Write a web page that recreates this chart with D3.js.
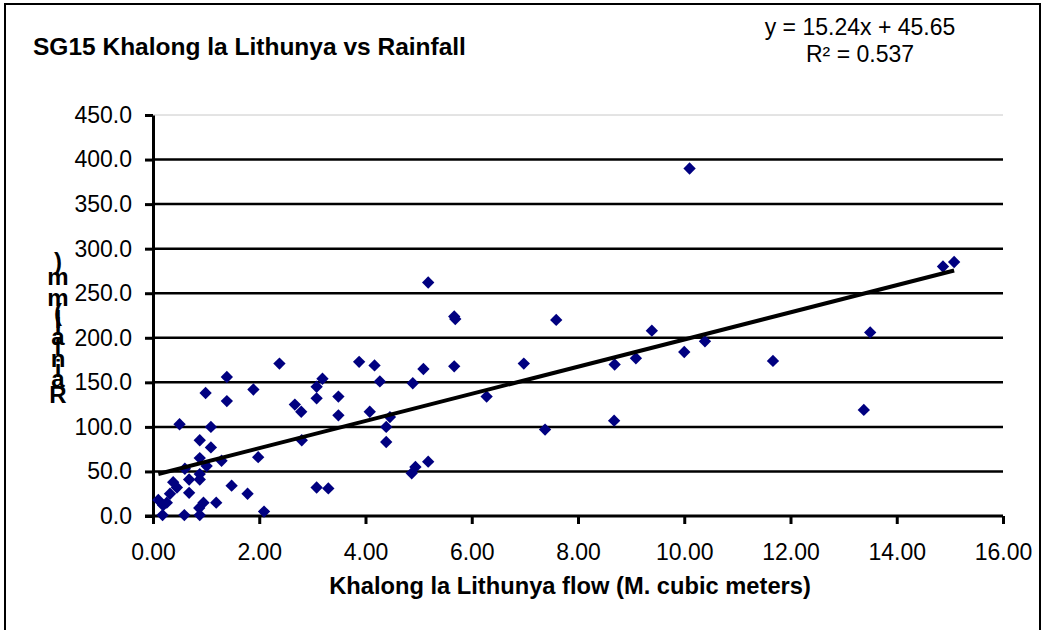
<!DOCTYPE html>
<html>
<head>
<meta charset="utf-8">
<script src="https://cdn.jsdelivr.net/npm/d3@7"></script>
<style>
  body { margin: 0; background: #fff; }
  text { font-family: "Liberation Sans", Arial, sans-serif; fill: #000; }
</style>
</head>
<body>
<div id="chart"></div>
<script>
// data
const X_VALUES = [0.10, 0.19, 0.26, 0.18, 0.32, 0.38, 0.45, 0.50, 0.60, 0.59, 0.68, 0.68,
                  0.88, 0.88, 0.88, 0.88, 0.87, 0.88, 0.95, 0.99, 1.01, 1.09, 1.09, 1.19,
                  1.29, 1.39, 1.39, 1.48, 1.78, 1.89, 1.98, 2.09, 2.38, 2.67, 2.79, 2.80,
                  3.08, 3.08, 3.19, 3.08, 3.30, 3.49, 3.49, 3.88, 4.08, 4.17, 4.27, 4.39,
                  4.39, 4.46, 4.87, 4.89, 4.94, 5.09, 5.18, 5.18, 5.67, 5.69, 5.67, 6.28,
                  6.98, 7.38, 7.59, 8.69, 8.68, 9.09, 9.39, 10.00, 10.10, 10.39, 11.67,
                  13.38, 13.50, 14.87, 15.08];
const Y_VALUES = [18, 12, 15, 1, 25, 38, 32, 103, 53, 1, 41, 26,
                  85, 65, 47, 41, 9, 1, 15, 138, 56, 100, 77, 15,
                  62, 156, 129, 34, 25, 142, 66, 5, 171, 125, 117, 85,
                  145, 132, 154, 32, 31, 134, 113, 173, 117, 169, 151, 100,
                  83, 111, 48, 149, 55, 165, 61, 262, 224, 221, 168, 134,
                  171, 97, 220, 170, 107, 177, 208, 184, 390, 196, 174,
                  119, 206, 280, 285];
const X_TICKS = [0, 2, 4, 6, 8, 10, 12, 14, 16];
const Y_TICKS = [0, 50, 100, 150, 200, 250, 300, 350, 400, 450];
const SLOPE = 15.24;
const INTERCEPT = 45.65;
const R_SQUARED = 0.537;

const TITLE = "SG15 Khalong la Lithunya vs Rainfall";
const X_TITLE = "Khalong la Lithunya flow (M. cubic meters)";
const Y_TITLE = "Rainfall (mm)";

// frame
const FRAME_WIDTH = 1045;
const FRAME_HEIGHT = 630;
const PLOT = {left: 153, right: 1003, top: 115, bottom: 516};
const FONT = 23;

const points = X_VALUES.map((x, i) => [x, Y_VALUES[i]]);

const FRAME = d3.select("#chart")
  .append("svg")
  .attr("width", FRAME_WIDTH)
  .attr("height", FRAME_HEIGHT);

// outer chart border
FRAME.append("rect")
  .attr("x", 5).attr("y", 4)
  .attr("width", 1035).attr("height", 660)
  .attr("fill", "none")
  .attr("stroke", "#000")
  .attr("stroke-width", 2);

const X_SCALE = d3.scaleLinear().domain([0, 16]).range([PLOT.left, PLOT.right]);
const Y_SCALE = d3.scaleLinear().domain([0, 450]).range([PLOT.bottom, PLOT.top]);

// gridlines
FRAME.append("g")
  .selectAll("line")
  .data(Y_TICKS.filter(d => d > 0))
  .enter()
  .append("line")
    .attr("x1", PLOT.left)
    .attr("x2", PLOT.right)
    .attr("y1", d => Y_SCALE(d))
    .attr("y2", d => Y_SCALE(d))
    .attr("stroke", d => d === 450 ? "#c8c8c8" : "#000")
    .attr("stroke-width", d => d === 450 ? 1 : 2.5);

// y axis
const yAxis = FRAME.append("g")
  .attr("transform", `translate(${PLOT.left},0)`)
  .call(d3.axisLeft(Y_SCALE)
    .tickValues(Y_TICKS)
    .tickSize(8)
    .tickSizeOuter(0)
    .tickPadding(13)
    .tickFormat(d3.format(".1f")));

// x axis
const xAxis = FRAME.append("g")
  .attr("transform", `translate(0,${PLOT.bottom})`)
  .call(d3.axisBottom(X_SCALE)
    .tickValues(X_TICKS)
    .tickSize(8)
    .tickSizeOuter(0)
    .tickPadding(20)
    .tickFormat(d3.format(".2f")));

[yAxis, xAxis].forEach(ax => {
  ax.select(".domain").attr("stroke", "#000").attr("stroke-width", 3);
  ax.selectAll(".tick line").attr("stroke", "#000").attr("stroke-width", 3);
  ax.selectAll(".tick text")
    .attr("font-size", FONT)
    .attr("font-family", "Liberation Sans, Arial, sans-serif")
    .attr("fill", "#000");
});
xAxis.select(".domain").attr("d", `M${PLOT.left - 8},0H${PLOT.right}`);

// points
FRAME.append("g")
  .selectAll("path")
  .data(points)
  .enter()
  .append("path")
    .attr("d", d3.symbol(d3.symbolSquare, 76))
    .attr("transform", d => `translate(${X_SCALE(d[0])},${Y_SCALE(d[1])}) rotate(45)`)
    .attr("fill", "#000080");

// trend line
const xMin = d3.min(X_VALUES);
const xMax = d3.max(X_VALUES);
FRAME.append("line")
  .attr("x1", X_SCALE(xMin))
  .attr("y1", Y_SCALE(SLOPE * xMin + INTERCEPT))
  .attr("x2", X_SCALE(xMax))
  .attr("y2", Y_SCALE(SLOPE * xMax + INTERCEPT))
  .attr("stroke", "#000")
  .attr("stroke-width", 4);

// title
FRAME.append("text")
  .attr("x", 33)
  .attr("y", 55)
  .attr("font-size", 24.5)
  .attr("font-weight", "bold")
  .text(TITLE);

// equation
FRAME.append("text")
  .attr("x", 860).attr("y", 35)
  .attr("text-anchor", "middle")
  .attr("font-size", FONT)
  .text(`y = ${SLOPE}x + ${INTERCEPT}`);
FRAME.append("text")
  .attr("x", 860).attr("y", 62)
  .attr("text-anchor", "middle")
  .attr("font-size", FONT)
  .text(`R² = ${R_SQUARED}`);

// x title
FRAME.append("text")
  .attr("x", 570)
  .attr("y", 594)
  .attr("text-anchor", "middle")
  .attr("font-size", 23.7)
  .attr("font-weight", "bold")
  .text(X_TITLE);

// y title: upright letters stacked bottom to top, spaced by their widths
const yLab = FRAME.append("g");
let cum = 0;
const R_BOTTOM = 403;
Y_TITLE.split("").forEach(ch => {
  const t = yLab.append("text")
    .attr("x", 58)
    .attr("text-anchor", "middle")
    .attr("dy", "0.35em")
    .attr("font-size", 24)
    .attr("font-weight", "bold")
    .text(ch);
  const w = t.node().getComputedTextLength();
  t.attr("y", R_BOTTOM - (cum + w / 2));
  cum += w;
});
</script>
</body>
</html>
